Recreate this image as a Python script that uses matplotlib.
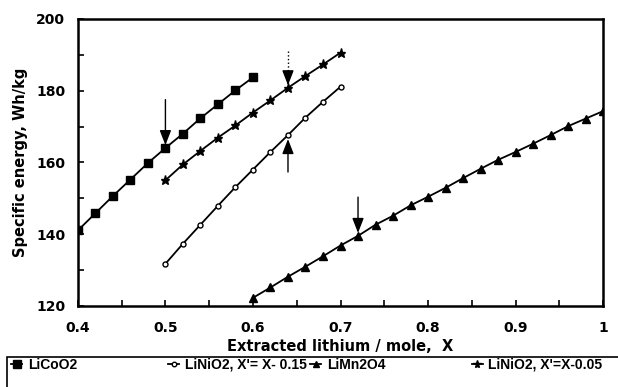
import matplotlib
matplotlib.use('Agg')
import matplotlib.pyplot as plt
import numpy as np
from matplotlib.patches import Rectangle

plt.rcParams['font.family'] = ['DejaVu Sans']
plt.rcParams['font.weight'] = 'bold'

# data
x_licoo2 = np.arange(0.40, 0.601, 0.02)
y_licoo2 = [141, 145.8, 150.6, 155.2, 159.8, 164.0, 168.0, 172.3, 176.2, 180.1, 183.7]

x_nio2_15 = np.arange(0.50, 0.701, 0.02)
y_nio2_15 = [131.7, 137.3, 142.6, 147.9, 153.1, 158.0, 162.9, 167.6, 172.5, 176.9, 181.1]

x_mn2o4 = np.arange(0.60, 1.001, 0.02)
y_mn2o4 = [122.2, 125.1, 128.1, 130.9, 133.8, 136.8, 139.5, 142.6, 145.1, 148.0, 150.4,
           152.9, 155.6, 158.2, 160.7, 162.9, 165.2, 167.6, 170.1, 172.2, 174.3]

x_nio2_05 = np.arange(0.50, 0.701, 0.02)
y_nio2_05 = [155.0, 159.4, 163.2, 166.9, 170.3, 173.9, 177.3, 180.8, 184.1, 187.3, 190.6]

labels = ['LiCoO2', "LiNiO2, X'= X- 0.15", 'LiMn2O4', "LiNiO2, X'=X-0.05"]

# arrows: (x, tail y, tip y, dotted)
arrows = [(0.50, 177.5, 164.8, False),
          (0.64, 191.0, 181.5, True),
          (0.64, 157.3, 166.5, False),
          (0.72, 150.3, 140.3, False)]


def main():
    fig = plt.figure(figsize=(6.18, 3.87), dpi=100)
    ax = fig.add_axes([0.126, 0.21, 0.850, 0.741])

    kw = dict(color='black', lw=1.3)
    h1, = ax.plot(x_licoo2, y_licoo2, marker='s', ms=6, **kw)
    h2, = ax.plot(x_nio2_15, y_nio2_15, marker='o', ms=3.6, mfc='white', mew=1.0, **kw)
    h3, = ax.plot(x_mn2o4, y_mn2o4, marker='^', ms=5.5, **kw)
    h4, = ax.plot(x_nio2_05, y_nio2_05, marker='*', ms=6.5, **kw)

    for x, tail, tip, dotted in arrows:
        if dotted:
            mid = tip + 4 if tip < tail else tip - 4
            ax.plot([x, x], [tail, mid], color='black', lw=1.0, ls=':')
            start = mid
        else:
            start = tail
        ax.annotate('', xy=(x, tip), xytext=(x, start),
                    arrowprops=dict(arrowstyle='-|>,head_length=0.9,head_width=0.35',
                                    color='black', lw=1.0, shrinkA=0, shrinkB=0))

    ax.set_xlim(0.4, 1.0)
    ax.set_ylim(120, 200)
    ax.set_xticks(np.arange(0.4, 1.001, 0.1))
    ax.set_xticklabels(['0.4', '0.5', '0.6', '0.7', '0.8', '0.9', '1'])
    ax.set_xticks(np.arange(0.4, 1.001, 0.05), minor=True)
    ax.set_yticks(np.arange(120, 201, 20))
    ax.set_yticks(np.arange(120, 201, 10), minor=True)
    ax.tick_params(which='both', direction='in', length=4, width=1.2, labelsize=10)
    ax.tick_params(axis='x', which='both', pad=11)
    ax.tick_params(axis='y', which='both', pad=9)
    for lab in ax.get_xticklabels() + ax.get_yticklabels():
        lab.set_fontweight('bold')
    for s in ax.spines.values():
        s.set_linewidth(1.8)

    ax.set_xlabel('Extracted lithium / mole,  X', fontsize=10.5, fontweight='bold', labelpad=3)
    ax.set_ylabel('Specific energy, Wh/kg', fontsize=10.5, fontweight='bold', labelpad=6)

    # legend box below the plot
    fig.add_artist(Rectangle((0.012, -0.2), 1.2, 0.278, transform=fig.transFigure,
                             fill=False, edgecolor='black', lw=1.2, clip_on=False))
    xs = [0.007, 0.261, 0.491, 0.752]
    for h, lab, xpos in zip([h1, h2, h3, h4], labels, xs):
        fig.legend([h], [lab], loc='center left', bbox_to_anchor=(xpos, 0.058),
                   frameon=False, handlelength=0.8, handletextpad=0.4,
                   borderpad=0, markerscale=0.9,
                   prop={'family': 'Liberation Sans', 'weight': 'bold', 'size': 10})

    plt.savefig('out.png', dpi=100)
    return 0


if __name__ == '__main__':
    main()
